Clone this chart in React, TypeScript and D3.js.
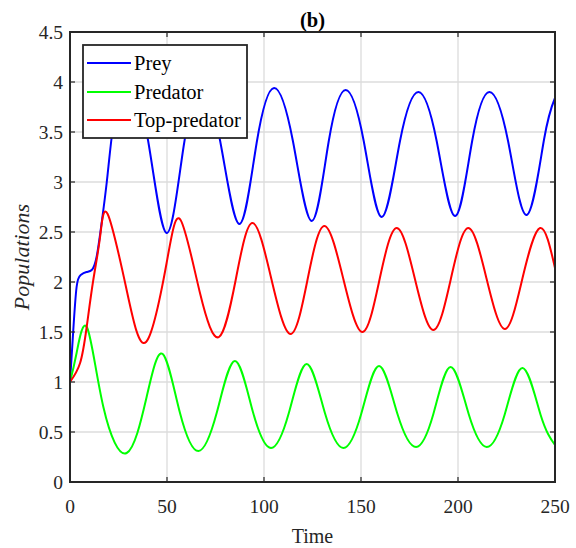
import React from "react";
import * as d3 from "d3";

const xTicks = [0, 50, 100, 150, 200, 250];
const yTicks = [0, 0.5, 1, 1.5, 2, 2.5, 3, 3.5, 4, 4.5];

const prey: [number, number][] = [
  [0, 1.0], [1.7, 1.52], [3.4, 1.95], [5.5, 2.07], [8.5, 2.1], [11.2, 2.12],
  [13.7, 2.25], [16.3, 2.59], [18.9, 2.99], [21.5, 3.45], [25, 3.88],
  [30.5, 4.08], [40.2, 3.42], [49.8, 2.49], [58.6, 3.36], [67.5, 3.95],
  [77.4, 3.41], [87.3, 2.58], [96.2, 3.39], [105.2, 3.94], [114.9, 3.41],
  [124.6, 2.61], [133.3, 3.4], [142.1, 3.92], [151.4, 3.41], [160.7, 2.65],
  [170.1, 3.41], [179.6, 3.9], [189.0, 3.41], [198.5, 2.66], [207.3, 3.41],
  [216.2, 3.9], [225.8, 3.41], [235.4, 2.67], [244.3, 3.42], [250, 3.84],
];

const predator: [number, number][] = [
  [0, 1.0], [3.4, 1.29], [8.9, 1.54], [17.2, 0.75], [29.2, 0.29], [39.5, 0.85],
  [47.8, 1.28], [56.7, 0.69], [66.2, 0.31], [75.6, 0.69], [85.0, 1.21],
  [94.3, 0.7], [103.6, 0.34], [112.8, 0.69], [122.0, 1.18], [131.4, 0.69],
  [140.9, 0.34], [150.1, 0.68], [159.3, 1.16], [168.8, 0.68], [178.4, 0.35],
  [187.3, 0.68], [196.2, 1.15], [205.5, 0.68], [214.8, 0.35], [224.0, 0.67],
  [233.3, 1.14], [242.6, 0.67], [250, 0.37],
];

const topPredator: [number, number][] = [
  [0, 1.0], [5.2, 1.19], [8.6, 1.55], [12, 2.02], [15.5, 2.45], [19.4, 2.68],
  [29.2, 1.92], [39.2, 1.4], [49.8, 2.19], [57.0, 2.62], [67.0, 1.89],
  [76.8, 1.45], [85.4, 2.02], [94.0, 2.59], [103.8, 2.03], [113.7, 1.48],
  [122.4, 2.02], [131.1, 2.56], [140.9, 2.03], [150.7, 1.5], [159.5, 2.02],
  [168.4, 2.54], [177.8, 2.03], [187.3, 1.52], [196.3, 2.03], [205.3, 2.54],
  [214.7, 2.035], [224.2, 1.53], [233.2, 2.035], [242.3, 2.54], [250, 2.14],
];

const seriesNames = ["Prey", "Predator", "Top-predator"];
const seriesColors = ["#0000ff", "#00ff00", "#ff0000"];

const FONT = "Liberation Serif";

export default function App() {
  const W = 576, H = 548;
  const left = 70, top = 32, right = 555, bottom = 482;
  const x = d3.scaleLinear().domain([0, 250]).range([left, right]);
  const y = d3.scaleLinear().domain([0, 4.5]).range([bottom, top]);
  const line = d3
    .line<[number, number]>()
    .x((d) => x(d[0]))
    .y((d) => y(d[1]))
    .curve(d3.curveNatural);
  const series = [prey, predator, topPredator];
  const axisColor = "#262626";
  const tickLen = 5;
  const tf = { fontFamily: FONT };

  const legX = 83, legY = 45, legW = 164, legH = 93;
  const rowY = [63, 92, 120];

  return (
    <svg
      width={W}
      height={H}
      style={{ position: "absolute", left: 0, top: 0, background: "#fff", fontFamily: FONT }}
    >
      <rect x={0} y={0} width={W} height={H} fill="#fff" />
      <g stroke="#dcdcdc" strokeWidth={1.3}>
        {xTicks.slice(1, -1).map((t) => (
          <line key={"gx" + t} x1={x(t)} x2={x(t)} y1={top} y2={bottom} />
        ))}
        {yTicks.slice(1, -1).map((t) => (
          <line key={"gy" + t} x1={left} x2={right} y1={y(t)} y2={y(t)} />
        ))}
      </g>
      <g fill="none" strokeWidth={2}>
        {series.map((s, i) => (
          <path key={i} d={line(s) || ""} stroke={seriesColors[i]} />
        ))}
      </g>
      <g stroke={axisColor} strokeWidth={1.2}>
        {xTicks.map((t) => (
          <g key={"tx" + t}>
            <line x1={x(t)} x2={x(t)} y1={bottom} y2={bottom - tickLen} />
            <line x1={x(t)} x2={x(t)} y1={top} y2={top + tickLen} />
          </g>
        ))}
        {yTicks.map((t) => (
          <g key={"ty" + t}>
            <line x1={left} x2={left + tickLen} y1={y(t)} y2={y(t)} />
            <line x1={right} x2={right - tickLen} y1={y(t)} y2={y(t)} />
          </g>
        ))}
      </g>
      <rect
        x={left}
        y={top}
        width={right - left}
        height={bottom - top}
        fill="none"
        stroke={axisColor}
        strokeWidth={2}
      />
      {xTicks.map((t) => (
        <text key={"lx" + t} x={x(t)} y={513} textAnchor="middle" fontSize={19.5} fill={axisColor} style={tf}>
          {t}
        </text>
      ))}
      {yTicks.map((t) => (
        <text key={"ly" + t} x={63} y={y(t) + 7} textAnchor="end" fontSize={19.5} fill={axisColor} style={tf}>
          {t}
        </text>
      ))}
      <text x={(left + right) / 2} y={543} textAnchor="middle" fontSize={20} fill={axisColor} style={tf}>
        Time
      </text>
      <text
        transform={`translate(29, ${(top + bottom) / 2}) rotate(-90)`}
        textAnchor="middle"
        fontSize={22}
        fontStyle="italic"
        fill={axisColor}
        style={tf}
      >
        Populations
      </text>
      <text x={(left + right) / 2} y={27} textAnchor="middle" fontSize={20.5} fontWeight="bold" fill="#000" style={tf}>
        (b)
      </text>
      <rect x={legX} y={legY} width={legW} height={legH} fill="#fff" stroke={axisColor} strokeWidth={1.8} />
      {seriesNames.map((n, i) => (
        <g key={n}>
          <line x1={87} x2={131} y1={rowY[i]} y2={rowY[i]} stroke={seriesColors[i]} strokeWidth={2} />
          <text x={134} y={rowY[i] + 7} fontSize={20.5} fill="#000" style={tf}>
            {n}
          </text>
        </g>
      ))}
    </svg>
  );
}
